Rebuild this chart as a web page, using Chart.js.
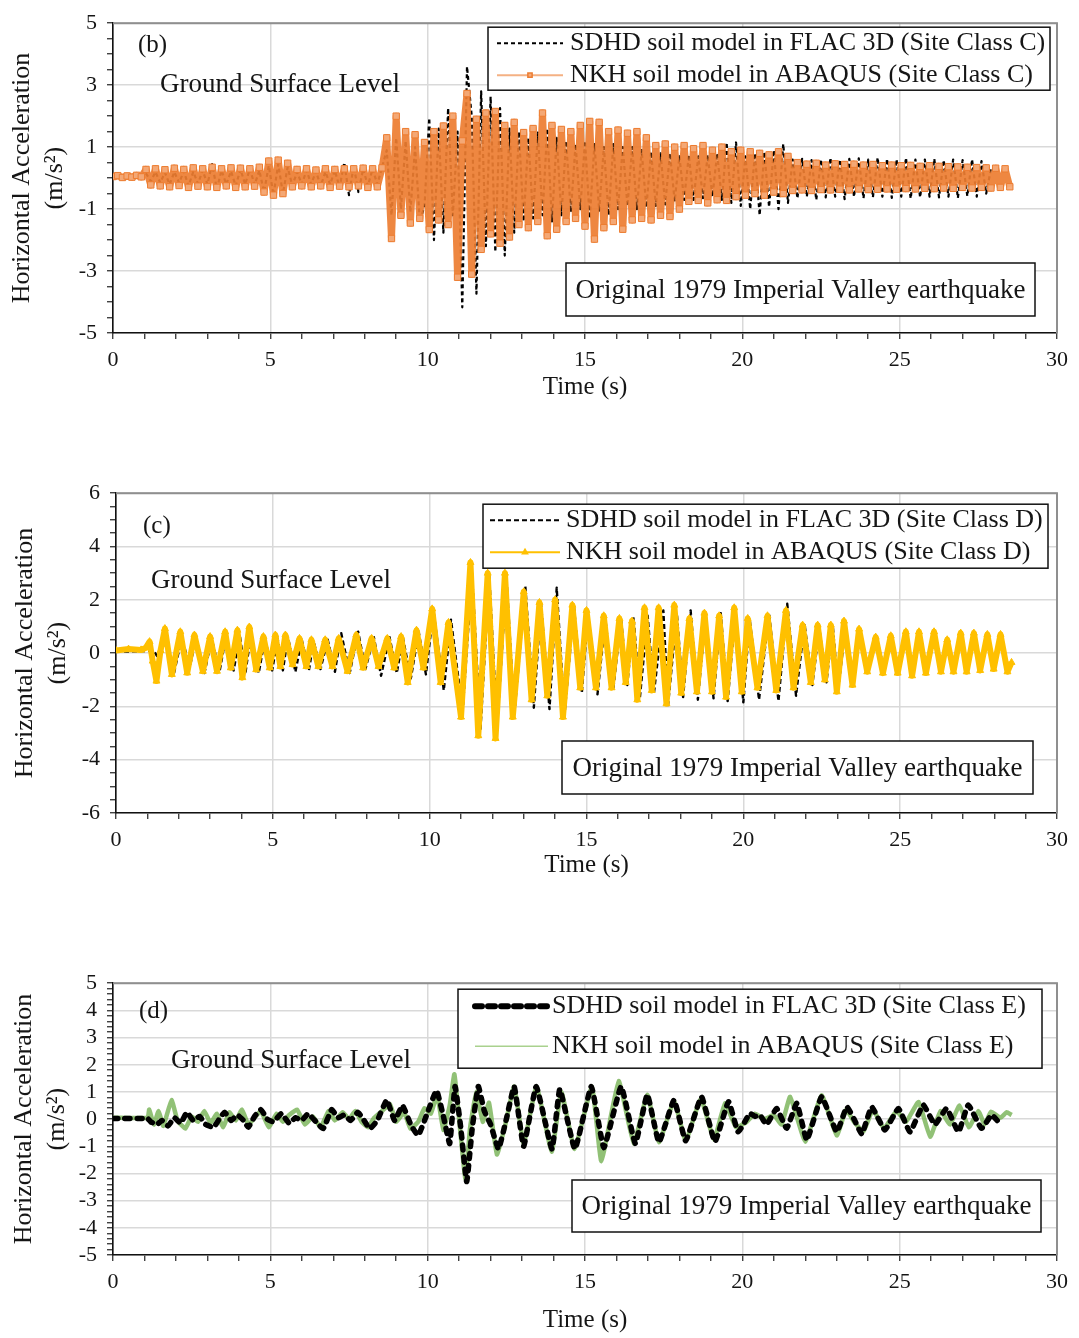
<!DOCTYPE html>
<html>
<head>
<meta charset="utf-8">
<title>Horizontal acceleration at ground surface level</title>
<script src="https://cdn.jsdelivr.net/npm/chart.js@4.4.1/dist/chart.umd.min.js"></script>
<style>
  body { margin: 0; background: #fff; }
  .panel { position: absolute; left: 0; width: 1079px; }
</style>
</head>
<body>
<div class="panel" style="top:0;height:410px"><canvas id="panelB"></canvas></div>
<div class="panel" style="top:470px;height:410px"><canvas id="panelC"></canvas></div>
<div class="panel" style="top:960px;height:378px"><canvas id="panelD"></canvas></div>
<script>
// ---- axis ticks ----
const xTickLabels = [0, 5, 10, 15, 20, 25, 30];
const yTickLabelsB = [-5, -3, -1, 1, 3, 5];
const yTickLabelsC = [-6, -4, -2, 0, 2, 4, 6];
const yTickLabelsD = [-5, -4, -3, -2, -1, 0, 1, 2, 3, 4, 5];

const seriesLabelsB = ['SDHD soil model in FLAC 3D (Site Class C)', 'NKH soil model in ABAQUS (Site Class C)'];
const seriesLabelsC = ['SDHD soil model in FLAC 3D (Site Class D)', 'NKH soil model in ABAQUS (Site Class D)'];
const seriesLabelsD = ['SDHD soil model in FLAC 3D (Site Class E)', 'NKH soil model in ABAQUS (Site Class E)'];

// ---- site class C: sampled every stepB seconds (m/s2) ----
const stepB = 0.15;
const sdhdB = [
  0.0, 0.02, 0.0, 0.03, 0.01, 0.02, 0.0, 0.15, -0.1, 0.2,
  -0.15, 0.18, -0.2, 0.2, -0.15, 0.22, -0.25, 0.2, -0.18, 0.25,
  -0.2, 0.45, -0.35, 0.25, -0.2, 0.22, -0.25, 0.28, -0.2, 0.3,
  -0.22, 0.25, -0.45, 0.4, -0.55, 0.45, -0.5, 0.35, -0.25, 0.2,
  -0.2, 0.25, -0.2, 0.22, -0.25, 0.2, -0.2, 0.25, -0.3, 0.5,
  -0.55, 0.4, -0.45, 0.3, -0.25, 0.3, -0.2, 0.35, 0.9, -1.2,
  1.3, -1.0, 1.2, -1.1, 1.0, -1.4, -0.9, 1.94, -2.0, 1.6,
  -1.76, 2.26, -1.2, 1.5, -4.17, 3.6, 2.0, -3.73, 2.8, -2.2,
  2.63, -2.38, 2.26, -2.5, 1.6, -1.76, 1.5, -1.4, 1.3, -1.3,
  1.47, -1.2, 1.6, -1.4, 1.3, -1.2, 1.2, -1.1, 1.1, -1.0,
  1.2, -1.3, 1.1, -1.05, 1.0, -1.2, 1.1, -1.0, 1.0, -0.9,
  1.0, -1.0, 0.9, -0.95, 0.85, -0.9, 0.8, -0.85, 0.8, -0.75,
  0.7, -0.7, 0.75, -0.7, 0.7, -0.65, 0.75, -0.6, 0.8, -0.7,
  1.15, -0.8, 1.15, -0.9, 0.7, -1.0, 0.8, -1.2, 0.85, -0.93,
  0.9, -1.0, 1.1, -0.8, 0.6, -0.65, 0.62, -0.6, 0.58, -0.7,
  0.6, -0.62, 0.65, -0.6, 0.6, -0.68, 0.62, -0.6, 0.64, -0.65,
  0.6, -0.62, 0.66, -0.6, 0.62, -0.64, 0.6, -0.6, 0.65, -0.66,
  0.6, -0.62, 0.6, -0.6, 0.62, -0.62, 0.58, -0.6, 0.6, -0.64,
  0.58, -0.58, 0.6, -0.6, 0.55, -0.5, 0.3
];
const nkhB = [
  0.05, 0.08, 0.02, 0.07, 0.03, 0.09, 0.04, 0.28, -0.22, 0.3,
  -0.25, 0.27, -0.28, 0.32, -0.24, 0.28, -0.3, 0.33, -0.26, 0.3,
  -0.28, 0.35, -0.3, 0.3, -0.25, 0.33, -0.3, 0.32, -0.28, 0.3,
  -0.26, 0.35, -0.45, 0.55, -0.55, 0.58, -0.5, 0.48, -0.28, 0.28,
  -0.25, 0.3, -0.28, 0.26, -0.25, 0.3, -0.3, 0.28, -0.26, 0.3,
  -0.28, 0.3, -0.25, 0.32, -0.3, 0.3, -0.28, 0.33, 1.3, -1.95,
  2.0, -1.2, 1.5, -1.45, 1.4, -1.3, 1.15, -1.66, 1.5, -1.35,
  1.68, -1.5, 2.0, -3.2, 1.2, 2.73, -3.1, 1.9, -2.3, 2.1,
  -1.8, 2.15, -2.1, 1.7, -1.9, 1.8, -1.5, 1.47, -1.6, 1.6,
  -1.4, 2.1, -1.86, 1.7, -1.65, 1.57, -1.4, 1.5, -1.3, 1.7,
  -1.55, 1.83, -1.97, 1.8, -1.6, 1.5, -1.4, 1.55, -1.65, 1.45,
  -1.35, 1.5, -1.3, 1.3, -1.35, 1.05, -1.2, 1.1, -1.24, 1.0,
  -1.0, 1.05, -0.75, 0.95, -0.72, 1.05, -0.8, 0.9, -0.7, 1.0,
  -0.72, 0.85, -0.6, 0.9, -0.55, 0.85, -0.5, 0.8, -0.55, 0.75,
  -0.45, 0.85, -0.5, 0.7, -0.4, 0.5, -0.38, 0.45, -0.4, 0.48,
  -0.37, 0.42, -0.38, 0.46, -0.36, 0.44, -0.38, 0.45, -0.35, 0.42,
  -0.37, 0.44, -0.36, 0.4, -0.35, 0.42, -0.36, 0.4, -0.34, 0.41,
  -0.35, 0.38, -0.33, 0.4, -0.34, 0.38, -0.32, 0.37, -0.33, 0.36,
  -0.3, 0.35, -0.32, 0.34, -0.3, 0.33, -0.32, 0.32, -0.3, 0.3,
  -0.28
];

// ---- site class D: turning points (s, m/s2) ----
const timeSdhdC = [
  0, 1.0, 1.2, 1.35, 1.6, 1.85, 2.1, 2.35, 2.55, 2.82,
  3.05, 3.3, 3.5, 3.75, 3.95, 4.12, 4.3, 4.55, 4.75, 4.98,
  5.15, 5.32, 5.48, 5.72, 5.92, 6.15, 6.3, 6.52, 6.75, 6.98,
  7.18, 7.45, 7.72, 7.95, 8.22, 8.45, 8.72, 8.95, 9.15, 9.4,
  9.65, 9.88, 10.12, 10.45, 10.68, 11.05, 11.35, 11.62, 11.9, 12.15,
  12.45, 12.7, 13.05, 13.32, 13.55, 13.82, 14.05, 14.3, 14.6, 14.85,
  15.05, 15.35, 15.6, 15.85, 16.1, 16.3, 16.5, 16.7, 16.95, 17.15,
  17.45, 17.6, 17.88, 18.08, 18.32, 18.55, 18.8, 19.05, 19.28, 19.5,
  19.75, 20.0, 20.2, 20.5, 20.82, 21.12, 21.4, 21.68, 21.95, 22.2,
  22.42, 22.65, 22.85, 23.02, 23.25, 23.52, 23.72, 23.98, 24.25, 24.5,
  24.72, 24.95, 25.2, 25.4, 25.62, 25.85, 26.1, 26.32, 26.52, 26.72,
  26.95, 27.15, 27.38, 27.58, 27.8, 28.0, 28.22, 28.4
];
const sdhdC = [
  0.05, 0.08, 0.1, -0.2, 0.55, -0.75, 0.6, -0.55, 0.6, -0.75,
  0.55, -0.7, 0.6, -0.65, 0.65, -0.8, 0.7, -0.75, 0.55, -0.65,
  0.55, -0.65, 0.6, -0.7, 0.5, -0.65, 0.45, -0.6, 0.5, -0.7,
  0.75, -0.75, 0.8, -0.6, 0.6, -0.85, 0.6, -0.75, 0.55, -0.95,
  0.8, -0.8, 1.6, -1.4, 1.25, -2.2, 3.0, -2.85, 2.9, -2.8,
  2.8, -2.3, 2.5, -2.05, 1.85, -2.1, 2.45, -2.3, 1.75, -1.5,
  1.5, -1.55, 1.3, -1.4, 1.3, -1.2, 1.35, -1.7, 1.4, -1.5,
  1.6, -1.95, 1.5, -1.65, 1.6, -1.75, 1.45, -1.7, 1.5, -1.8,
  1.6, -1.85, 1.3, -1.75, 1.5, -1.8, 1.85, -1.6, 1.1, -1.2,
  0.95, -1.1, 1.05, -1.4, 0.9, -1.0, 0.7, -0.6, 0.55, -0.65,
  0.6, -0.65, 0.7, -0.7, 0.65, -0.65, 0.7, -0.6, 0.45, -0.6,
  0.65, -0.6, 0.65, -0.55, 0.6, -0.5, 0.55, -0.55
];
const timeNkhC = [
  0, 0.4, 0.8, 0.95, 1.07, 1.17, 1.29, 1.42, 1.56, 1.78,
  2.05, 2.27, 2.5, 2.77, 3.0, 3.22, 3.48, 3.66, 3.87, 4.03,
  4.25, 4.47, 4.7, 4.9, 5.08, 5.24, 5.4, 5.63, 5.85, 6.07,
  6.23, 6.45, 6.67, 6.9, 7.1, 7.38, 7.66, 7.88, 8.15, 8.37,
  8.65, 8.87, 9.09, 9.3, 9.58, 9.8, 10.08, 10.35, 10.6, 11.0,
  11.3, 11.55, 11.85, 12.1, 12.4, 12.65, 13.0, 13.25, 13.5, 13.75,
  14.0, 14.25, 14.55, 14.8, 15.0, 15.3, 15.55, 15.8, 16.05, 16.25,
  16.45, 16.62, 16.85, 17.08, 17.3, 17.55, 17.8, 18.02, 18.28, 18.52,
  18.76, 19.0, 19.23, 19.45, 19.71, 19.95, 20.14, 20.45, 20.77, 21.05,
  21.36, 21.6, 21.89, 22.15, 22.37, 22.6, 22.79, 22.98, 23.21, 23.48,
  23.69, 23.95, 24.22, 24.45, 24.7, 24.92, 25.18, 25.38, 25.6, 25.82,
  26.08, 26.3, 26.5, 26.7, 26.93, 27.12, 27.35, 27.55, 27.78, 27.98,
  28.2, 28.42, 28.55
];
const nkhC = [
  0.1, 0.15, 0.12, 0.2, 0.43, -0.3, -1.05, 0.1, 0.92, -0.8,
  0.8, -0.74, 0.68, -0.68, 0.62, -0.68, 0.8, -0.55, 0.86, -0.92,
  0.98, -0.62, 0.62, -0.55, 0.68, -0.5, 0.68, -0.43, 0.55, -0.5,
  0.5, -0.5, 0.5, -0.5, 0.55, -0.68, 0.68, -0.55, 0.55, -0.5,
  0.55, -0.55, 0.62, -1.1, 0.86, -0.55, 1.66, -1.1, 1.15, -2.4,
  3.4, -3.1, 3.0, -3.2, 3.0, -2.4, 2.3, -1.75, 1.9, -1.6,
  2.0, -2.4, 1.8, -1.3, 1.6, -1.3, 1.4, -1.3, 1.3, -1.1,
  1.2, -1.75, 1.7, -1.4, 1.7, -1.9, 1.8, -1.5, 1.3, -1.45,
  1.5, -1.45, 1.4, -1.65, 1.7, -1.45, 1.3, -1.3, 1.4, -1.4,
  1.6, -1.3, 1.05, -1.1, 1.05, -1.0, 1.05, -1.45, 1.2, -1.2,
  0.9, -0.7, 0.6, -0.75, 0.65, -0.75, 0.8, -0.85, 0.8, -0.75,
  0.8, -0.7, 0.5, -0.7, 0.75, -0.7, 0.75, -0.65, 0.7, -0.6,
  0.7, -0.7, -0.35
];

// ---- site class E: turning points (s, m/s2) ----
const timeSdhdD = [
  0, 1.1, 1.2, 1.4, 1.55, 1.75, 1.95, 2.15, 2.35, 2.55,
  2.75, 2.95, 3.2, 3.4, 3.55, 3.75, 3.95, 4.15, 4.3, 4.5,
  4.7, 4.9, 5.1, 5.35, 5.6, 5.8, 6.0, 6.2, 6.45, 6.68,
  6.95, 7.15, 7.35, 7.55, 7.78, 7.95, 8.16, 8.4, 8.7, 8.95,
  9.2, 9.48, 9.7, 9.95, 10.28, 10.5, 10.7, 10.87, 11.05, 11.24,
  11.42, 11.61, 11.8, 12.0, 12.25, 12.5, 12.75, 13.05, 13.45, 13.95,
  14.2, 14.68, 15.2, 15.6, 16.15, 16.6, 16.98, 17.35, 17.83, 18.2,
  18.7, 19.13, 19.56, 19.87, 20.24, 20.4, 20.56, 20.77, 21.09, 21.41,
  21.73, 22.05, 22.52, 23.0, 23.32, 23.55, 23.8, 24.11, 24.53, 24.96,
  25.33, 25.75, 26.12, 26.49, 26.87, 27.18, 27.6, 27.92, 28.1
];
const sdhdD = [
  0.02, 0.02, -0.1, -0.2, -0.05, -0.25, 0.05, -0.15, 0.25, -0.05,
  0.1, -0.2, -0.3, 0.05, 0.25, -0.05, 0.15, -0.05, -0.3, 0.1,
  0.35, 0.0, -0.1, 0.2, -0.15, 0.05, -0.05, 0.2, -0.1, -0.35,
  0.35, 0.05, 0.15, -0.05, 0.25, 0.0, -0.35, -0.05, 0.7, -0.05,
  0.5, -0.25, -0.6, 0.1, 1.05, 0.1, -0.9, 1.2, -0.3, -2.3,
  -0.3, 1.2, 0.3, -0.2, -1.1, 0.0, 1.2, -1.0, 1.2, -1.1,
  1.1, -1.1, 1.2, -1.05, 1.2, -0.9, 0.9, -0.85, 0.7, -0.8,
  0.82, -0.83, 0.64, -0.47, 0.21, 0.1, 0.15, -0.2, 0.39, -0.34,
  0.58, -0.77, 0.82, -0.47, 0.45, 0.0, -0.55, 0.45, -0.4, 0.39,
  -0.47, 0.52, -0.2, 0.39, -0.47, 0.52, -0.34, 0.15, -0.05
];
const timeNkhD = [
  0, 1.1, 1.15, 1.3, 1.45, 1.6, 1.86, 2.05, 2.3, 2.5,
  2.7, 2.9, 3.1, 3.3, 3.5, 3.7, 3.9, 4.1, 4.3, 4.5,
  4.7, 4.95, 5.2, 5.4, 5.6, 5.85, 6.1, 6.35, 6.6, 6.85,
  7.05, 7.3, 7.5, 7.7, 7.9, 8.1, 8.3, 8.55, 8.8, 9.0,
  9.25, 9.45, 9.7, 9.9, 10.1, 10.3, 10.5, 10.7, 10.85, 11.05,
  11.2, 11.35, 11.55, 11.75, 11.95, 12.2, 12.45, 12.75, 13.05, 13.46,
  13.94, 14.25, 14.67, 15.22, 15.52, 16.07, 16.55, 16.98, 17.35, 17.83,
  18.2, 18.68, 19.1, 19.45, 19.8, 20.14, 20.4, 20.7, 21.0, 21.25,
  21.52, 22.0, 22.52, 23.0, 23.3, 23.55, 23.85, 24.15, 24.5, 24.9,
  25.2, 25.6, 25.97, 26.3, 26.6, 26.9, 27.2, 27.5, 27.7, 27.9,
  28.2, 28.4, 28.56
];
const nkhD = [
  0.05, 0.05, 0.35, -0.2, 0.3, -0.25, 0.7, -0.05, -0.35, 0.1,
  -0.1, 0.3, -0.15, 0.2, -0.3, 0.25, -0.05, 0.35, -0.2, 0.05,
  0.3, -0.3, 0.2, -0.1, 0.15, 0.35, -0.2, 0.1, -0.3, 0.3,
  -0.05, 0.25, 0.0, 0.3, -0.1, -0.3, 0.05, 0.3, 0.55, -0.1,
  0.25, -0.35, -0.1, 0.4, 0.2, 0.9, -0.4, 0.5, 1.65, -0.6,
  -2.2, -0.3, 1.0, -0.1, 0.6, -1.3, -0.3, 1.2, -0.9, 1.2,
  -1.2, 1.0, -1.1, 1.2, -1.55, 1.4, -0.9, 0.9, -0.85, 0.67,
  -0.8, 0.75, -0.75, 0.58, -0.3, -0.1, 0.2, 0.0, 0.15, -0.2,
  0.82, -0.83, 0.88, -0.6, 0.35, -0.1, -0.45, 0.35, -0.35, 0.3,
  -0.1, 0.63, -0.65, 0.3, -0.2, 0.5, -0.3, 0.3, -0.2, 0.27,
  0.05, 0.25, 0.15
];

const FONT = '"Liberation Serif", "Times New Roman", serif';
const INK = '#151515';
const GRID = '#d9d9d9';

const onList = (v, list) => list.some(l => Math.abs(l - v) < 1e-6);

function tickRange(min, max, step) {
  const n = Math.round((max - min) / step);
  const out = [];
  for (let i = 0; i <= n; i++) out.push(Math.round((min + i * step) * 100) / 100);
  return out;
}

function stepped(values, step) {
  return values.map((v, i) => ({ x: i * step, y: v }));
}

function paired(times, values) {
  return times.map((t, i) => ({ x: t, y: values[i] }));
}

// frame, panel tag, legend box and event note, drawn over the traces
const panelDecor = {
  id: 'panelDecor',
  afterDatasetsDraw(chart, args, o) {
    const { ctx, chartArea: a } = chart;
    ctx.save();
    ctx.strokeStyle = '#8f8f8f';
    ctx.lineWidth = 2;
    ctx.beginPath();
    ctx.moveTo(a.left, a.top);
    ctx.lineTo(a.right, a.top);
    ctx.lineTo(a.right, a.bottom);
    ctx.stroke();

    ctx.fillStyle = INK;
    ctx.textBaseline = 'middle';
    ctx.textAlign = 'left';
    ctx.font = '25px ' + FONT;
    ctx.fillText(o.tag, a.left + o.tagAt[0], a.top + o.tagAt[1]);
    ctx.font = '27px ' + FONT;
    ctx.fillText('Ground Surface Level', a.left + o.levelAt[0], a.top + o.levelAt[1]);

    // legend
    const lg = o.legend;
    const bx = a.right - lg.right - lg.width;
    const by = a.top + lg.top;
    ctx.fillStyle = '#fff';
    ctx.fillRect(bx, by, lg.width, lg.height);
    ctx.strokeStyle = '#111';
    ctx.lineWidth = 1.5;
    ctx.strokeRect(bx, by, lg.width, lg.height);
    ctx.font = '26px ' + FONT;
    chart.data.datasets.forEach((ds, i) => {
      const y = by + lg.rows[i];
      const x0 = bx + lg.sample[0];
      const x1 = bx + lg.sample[1];
      ctx.save();
      ctx.strokeStyle = ds.legendColor || ds.borderColor;
      ctx.lineWidth = ds.legendWidth || ds.borderWidth;
      ctx.lineCap = ds.borderCapStyle || 'butt';
      ctx.setLineDash(ds.legendDash || ds.borderDash || []);
      ctx.beginPath();
      ctx.moveTo(x0, y);
      ctx.lineTo(x1, y);
      ctx.stroke();
      ctx.restore();
      if (ds.legendMarker) {
        ctx.save();
        ctx.fillStyle = ds.pointBackgroundColor || ds.borderColor;
        ctx.strokeStyle = ds.pointBorderColor || ds.borderColor;
        Chart.helpers.drawPoint(ctx, { pointStyle: ds.legendMarker, radius: 3, borderWidth: 1, rotation: 0 },
          (x0 + x1) / 2, y);
        ctx.restore();
      }
      ctx.fillStyle = INK;
      ctx.fillText(ds.label, bx + lg.text, y);
    });

    // event note
    const nt = o.note;
    const nx = a.right - nt.right - nt.width;
    const ny = a.bottom - nt.bottom - nt.height;
    ctx.fillStyle = '#fff';
    ctx.fillRect(nx, ny, nt.width, nt.height);
    ctx.strokeStyle = '#111';
    ctx.lineWidth = 1.5;
    ctx.strokeRect(nx, ny, nt.width, nt.height);
    ctx.fillStyle = INK;
    ctx.textAlign = 'center';
    ctx.font = '27px ' + FONT;
    ctx.fillText('Original 1979 Imperial Valley earthquake', nx + nt.width / 2, ny + nt.height / 2 + 1);
    ctx.restore();
  }
};

function makePanel(id, p) {
  const xTicks = tickRange(0, 30, 1);
  const yTicks = tickRange(p.yMin, p.yMax, p.yMinor);
  return new Chart(document.getElementById(id), {
    type: 'line',
    data: { datasets: p.datasets },
    options: {
      responsive: true,
      maintainAspectRatio: false,
      animation: false,
      events: [],
      layout: {
        padding: { left: 0, right: 1079 - p.area.right, top: p.area.top, bottom: p.height - p.area.bottom - p.xAxisH }
      },
      elements: {
        point: { radius: 0, hoverRadius: 0 },
        line: { tension: 0, borderJoinStyle: 'round' }
      },
      plugins: { legend: { display: false }, tooltip: { enabled: false }, panelDecor: p.decor },
      scales: {
        x: {
          type: 'linear', min: 0, max: 30,
          afterBuildTicks: s => { s.ticks = xTicks.map(v => ({ value: v })); },
          afterFit: s => { s.height = p.xAxisH; },
          ticks: {
            autoSkip: false, maxRotation: 0, padding: 8, color: INK,
            font: { family: FONT, size: 22 },
            callback: v => onList(v, xTickLabels) ? String(v) : ''
          },
          grid: {
            color: c => (c.tick && onList(c.tick.value, xTickLabels)) ? GRID : 'rgba(0,0,0,0)',
            lineWidth: 1.5, tickColor: '#222', tickLength: 6, tickWidth: 1.2
          },
          border: { color: '#111', width: 1.6 },
          title: { display: true, text: 'Time (s)', color: INK, font: { family: FONT, size: 25 }, padding: 0 }
        },
        y: {
          min: p.yMin, max: p.yMax,
          afterBuildTicks: s => { s.ticks = yTicks.map(v => ({ value: v })); },
          afterFit: s => { s.width = p.area.left; },
          ticks: {
            autoSkip: false, padding: 10, color: INK,
            font: { family: FONT, size: 22 },
            callback: v => onList(v, p.yLabels) ? String(Math.round(v)) : ''
          },
          grid: {
            color: c => (c.tick && onList(c.tick.value, p.yLabels)) ? GRID : 'rgba(0,0,0,0)',
            lineWidth: 1.5, tickColor: '#222', tickLength: 6, tickWidth: 1.2
          },
          border: { color: '#111', width: 1.6 },
          title: {
            display: true, text: ['Horizontal Acceleration', '(m/s²)'], color: INK,
            font: { family: FONT, size: 26, lineHeight: 1.25 },
            padding: { top: p.yTitlePad, bottom: 0 }
          }
        }
      }
    },
    plugins: [panelDecor]
  });
}

makePanel('panelB', {
  height: 410, area: { left: 113, right: 1057, top: 14, bottom: 333 }, xAxisH: 69,
  yMin: -5, yMax: 5, yMinor: 0.5, yLabels: yTickLabelsB, yTitlePad: 6,
  decor: {
    tag: '(b)', tagAt: [25, 22], levelAt: [47, 62],
    legend: { width: 562, height: 63, right: 7, top: 4, rows: [16, 48], sample: [9, 75], text: 82 },
    note: { width: 469, height: 53, right: 22, bottom: 17 }
  },
  datasets: [
    {
      label: seriesLabelsB[0], data: stepped(sdhdB, stepB), order: 2,
      borderColor: '#000', borderWidth: 2.2, borderDash: [4, 3], pointRadius: 0,
      legendWidth: 2
    },
    {
      label: seriesLabelsB[1], data: stepped(nkhB, stepB), order: 1,
      borderColor: 'rgba(237,125,49,0.92)', borderWidth: 7,
      pointStyle: 'rect', pointRadius: 4.5, pointBorderWidth: 1,
      pointBackgroundColor: 'rgba(244,170,120,0.95)', pointBorderColor: '#ED7D31',
      legendColor: '#F4B183', legendWidth: 2, legendMarker: 'rect'
    }
  ]
});

makePanel('panelC', {
  height: 410, area: { left: 116, right: 1057, top: 20, bottom: 343 }, xAxisH: 67,
  yMin: -6, yMax: 6, yMinor: 0.5, yLabels: yTickLabelsC, yTitlePad: 9,
  decor: {
    tag: '(c)', tagAt: [27, 33], levelAt: [35, 88],
    legend: { width: 565, height: 64, right: 9, top: 11, rows: [16, 48], sample: [7, 77], text: 83 },
    note: { width: 471, height: 53, right: 24, bottom: 19 }
  },
  datasets: [
    {
      label: seriesLabelsC[0], data: paired(timeSdhdC, sdhdC), order: 2,
      borderColor: '#000', borderWidth: 2.4, borderDash: [5, 3], pointRadius: 0,
      legendWidth: 2
    },
    {
      label: seriesLabelsC[1], data: paired(timeNkhC, nkhC), order: 1,
      borderColor: '#FFC000', borderWidth: 6,
      pointStyle: 'triangle', pointRadius: 4, pointBorderWidth: 1,
      pointBackgroundColor: '#FFC000', pointBorderColor: '#FFC000',
      legendWidth: 2, legendMarker: 'triangle'
    }
  ]
});

makePanel('panelD', {
  height: 378, area: { left: 113, right: 1057, top: 23, bottom: 295 }, xAxisH: 80,
  yMin: -5, yMax: 5, yMinor: 0.2, yLabels: yTickLabelsD, yTitlePad: 8,
  decor: {
    tag: '(d)', tagAt: [26, 28], levelAt: [58, 78],
    legend: { width: 584, height: 79, right: 15, top: 6, rows: [17, 57], sample: [17, 90], text: 94 },
    note: { width: 469, height: 52, right: 16, bottom: 23 }
  },
  datasets: [
    {
      label: seriesLabelsD[0], data: paired(timeSdhdD, sdhdD), order: 1,
      borderColor: '#000', borderWidth: 5.5, borderDash: [5, 7], borderCapStyle: 'round',
      pointRadius: 0, tension: 0.12, legendWidth: 6, legendDash: [7, 6]
    },
    {
      label: seriesLabelsD[1], data: paired(timeNkhD, nkhD), order: 2,
      borderColor: 'rgba(118,178,84,0.8)', borderWidth: 4.5, pointRadius: 0, tension: 0.12,
      legendColor: '#A9D18E', legendWidth: 1.5
    }
  ]
});
</script>
</body>
</html>
